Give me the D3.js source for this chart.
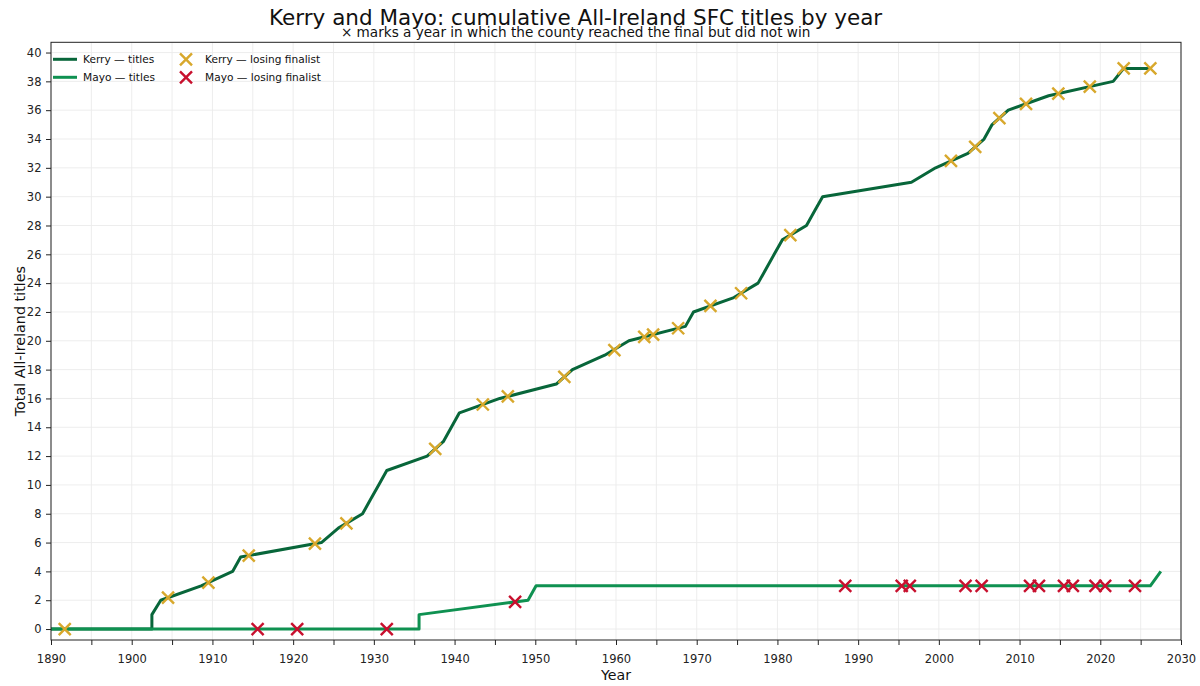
<!DOCTYPE html>
<html>
<head>
<meta charset="utf-8">
<script src="https://cdn.jsdelivr.net/npm/d3@7/dist/d3.min.js"></script>
<style>
  html, body { margin: 0; padding: 0; background: #ffffff; }
  svg { display: block; font-family: "DejaVu Sans", sans-serif; }
</style>
</head>
<body>
<svg id="chart" width="1200" height="686"></svg>
<script>
// ---- Data ----
const kerryYears  = [1890, 1902.5, 1902.5, 1903.6, 1908.6, 1912.5, 1913.5, 1923.5, 1925.6, 1928.6, 1929.6, 1930.6, 1931.6, 1936.6, 1938.6, 1939.6, 1940.6, 1945.6, 1952.6, 1954.6, 1958.6, 1961.6, 1968.6, 1969.6, 1974.6, 1977.6, 1978.6, 1979.6, 1980.6, 1983.6, 1984.6, 1985.6, 1996.6, 1999.6, 2003.6, 2005.6, 2006.6, 2008.6, 2013.6, 2021.6, 2022.9, 2026.2];
const kerryTitles = [0, 0, 1, 2, 3, 4, 5, 6, 7, 8, 9, 10, 11, 12, 13, 14, 15, 16, 17, 18, 19, 20, 21, 22, 23, 24, 25, 26, 27, 28, 29, 30, 31, 32, 33, 34, 35, 36, 37, 38, 38.9, 38.9];

const mayoYears  = [1890, 1935.6, 1935.6, 1949.1, 1950.1, 2026.2, 2027.5];
const mayoTitles = [0, 0, 1, 2, 3, 3, 4];

const kerryLostYears  = [1891.7, 1904.5, 1909.5, 1914.5, 1922.7, 1926.6, 1937.6, 1943.5, 1946.6, 1953.6, 1959.8, 1963.5, 1964.6, 1967.7, 1971.7, 1975.5, 1981.6, 2001.5, 2004.5, 2007.5, 2010.8, 2014.8, 2018.7, 2022.9, 2026.2];
const kerryLostValues = [0, 2.18, 3.22, 5.1, 5.92, 7.33, 12.5, 15.58, 16.14, 17.5, 19.35, 20.27, 20.43, 20.87, 22.42, 23.3, 27.33, 32.48, 33.45, 35.45, 36.44, 37.15, 37.64, 38.9, 38.9];

const mayoLostYears  = [1915.6, 1920.5, 1931.6, 1947.5, 1988.4, 1995.4, 1996.4, 2003.3, 2005.3, 2011.3, 2012.4, 2015.5, 2016.6, 2019.4, 2020.6, 2024.3];
const mayoLostValues = [0, 0, 0, 1.88, 3, 3, 3, 3, 3, 3, 3, 3, 3, 3, 3, 3];

const xTicks = d3.range(1890, 2031, 5);
const yTicks = d3.range(0, 41, 2);

const titleText = "Kerry and Mayo: cumulative All-Ireland SFC titles by year";
const subtitleText = "\u00d7 marks a year in which the county reached the final but did not win";
const xLabel = "Year";
const yLabel = "Total All-Ireland titles";
const legendLabels = ["Kerry \u2014 titles", "Mayo \u2014 titles", "Kerry \u2014 losing finalist", "Mayo \u2014 losing finalist"];

// ---- Styles ----
const KERRY = "#08663a";
const MAYO = "#0f9151";
const KERRY_X = "#d8a82c";
const MAYO_X = "#c8102e";

const svg = d3.select("#chart");
const L = 51, R = 1181, T = 42.3, B = 640;

const x = d3.scaleLinear().domain([1890, 2030]).range([L, R]);
const y = d3.scaleLinear().domain([-0.76, 40.71]).range([B, T]);

// grid
const grid = svg.append("g");
grid.selectAll("line.gx").data(xTicks).join("line")
  .attr("x1", d => x(d)).attr("x2", d => x(d)).attr("y1", T).attr("y2", B)
  .attr("stroke", "#ebebeb").attr("stroke-width", 0.9);
grid.selectAll("line.gy").data(yTicks).join("line")
  .attr("y1", d => y(d)).attr("y2", d => y(d)).attr("x1", L).attr("x2", R)
  .attr("stroke", "#ebebeb").attr("stroke-width", 0.9);

// axes
const xAxis = d3.axisBottom(x).tickValues(xTicks).tickSize(5).tickPadding(10)
  .tickFormat(d => d % 10 === 0 ? String(d) : "");
const gx = svg.append("g").attr("transform", `translate(0,${B})`).call(xAxis);
gx.select(".domain").remove();
gx.selectAll("line").attr("stroke", "#222").attr("stroke-width", 1);
gx.selectAll("text").attr("font-size", 11.5).attr("fill", "#222").attr("font-family", "DejaVu Sans");

const yAxis = d3.axisLeft(y).tickValues(yTicks).tickSize(5).tickPadding(4.5).tickFormat(d3.format("d"));
const gy = svg.append("g").attr("transform", `translate(${L},0)`).call(yAxis);
gy.select(".domain").remove();
gy.selectAll("line").attr("stroke", "#222").attr("stroke-width", 1);
gy.selectAll("text").attr("font-size", 11.5).attr("fill", "#222").attr("font-family", "DejaVu Sans");

// clip
svg.append("clipPath").attr("id", "plotclip").append("rect")
  .attr("x", L).attr("y", T).attr("width", R - L).attr("height", B - T);

const plot = svg.append("g").attr("clip-path", "url(#plotclip)");
const line = d3.line().x(d => x(d[0])).y(d => y(d[1]));

plot.append("path").datum(kerryYears.map((v, i) => [v, kerryTitles[i]]))
  .attr("d", line).attr("fill", "none").attr("stroke", KERRY)
  .attr("stroke-width", 3).attr("stroke-linejoin", "round");
plot.append("path").datum(mayoYears.map((v, i) => [v, mayoTitles[i]]))
  .attr("d", line).attr("fill", "none").attr("stroke", MAYO)
  .attr("stroke-width", 3).attr("stroke-linejoin", "round");

function cross(g, cx, cy, color, r) {
  g.append("path")
    .attr("d", `M${cx - r},${cy - r}L${cx + r},${cy + r}M${cx - r},${cy + r}L${cx + r},${cy - r}`)
    .attr("stroke", color).attr("stroke-width", 2.4).attr("fill", "none");
}
const mk = svg.append("g");
kerryLostYears.forEach((yr, i) => cross(mk, x(yr), y(kerryLostValues[i]), KERRY_X, 6));
mayoLostYears.forEach((yr, i) => cross(mk, x(yr), y(mayoLostValues[i]), MAYO_X, 6));

// frame
svg.append("rect").attr("x", L).attr("y", T).attr("width", R - L).attr("height", B - T)
  .attr("fill", "none").attr("stroke", "#222").attr("stroke-width", 1);

// titles
svg.append("text").attr("x", 575.6).attr("y", 25).attr("text-anchor", "middle")
  .attr("font-size", 21.5).attr("fill", "#111").text(titleText);
svg.append("text").attr("x", 575.6).attr("y", 37).attr("text-anchor", "middle")
  .attr("font-size", 13.6).attr("fill", "#111").text(subtitleText);
svg.append("text").attr("x", (L + R) / 2).attr("y", 680).attr("text-anchor", "middle")
  .attr("font-size", 14.2).attr("fill", "#111").text(xLabel);
svg.append("text").attr("transform", `translate(25,${(T + B) / 2}) rotate(-90)`)
  .attr("text-anchor", "middle").attr("font-size", 14.3).attr("fill", "#111").text(yLabel);

// legend
const lg = svg.append("g");
const rows = [59.3, 77.3];
[KERRY, MAYO].forEach((c, i) => {
  lg.append("line").attr("x1", 53).attr("x2", 77).attr("y1", rows[i]).attr("y2", rows[i])
    .attr("stroke", c).attr("stroke-width", 3);
  lg.append("text").attr("x", 83).attr("y", rows[i]).attr("dy", "0.35em")
    .attr("font-size", 10.6).attr("fill", "#111").text(legendLabels[i]);
});
[KERRY_X, MAYO_X].forEach((c, i) => {
  cross(lg, 186, rows[i], c, 6);
  lg.append("text").attr("x", 205).attr("y", rows[i]).attr("dy", "0.35em")
    .attr("font-size", 10.6).attr("fill", "#111").text(legendLabels[i + 2]);
});
</script>
</body>
</html>
